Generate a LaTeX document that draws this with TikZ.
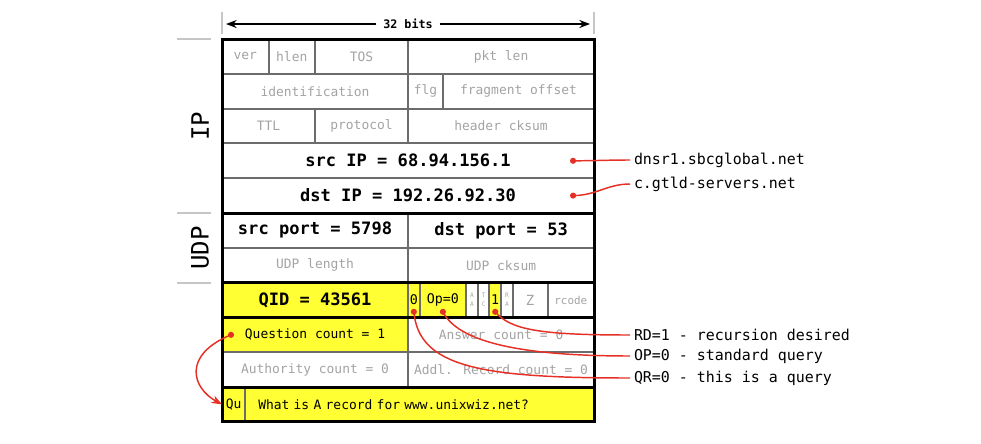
\documentclass[tikz,border=0pt]{standalone}
\usepackage{fontspec}
\setmainfont{DejaVu Sans Mono}
\usepackage{tikz}
\usetikzlibrary{positioning, arrows.meta}

\definecolor{hiyellow}{RGB}{255,255,51}
\definecolor{wirered}{RGB}{229,48,38}
\newcommand{\dimfont}{\fontsize{9.7}{11}\selectfont}
\newcommand{\boldfont}{\fontsize{12.8}{14}\selectfont\bfseries}

\tikzset{
  bitbox/.style={draw=gray!85!black, line width=1.5pt, inner sep=0pt, outer sep=0pt,
    minimum height=26.1pt, minimum width=#1*8.72pt, text=gray!72, font=\dimfont},
  hot/.style={fill=hiyellow, text=black},
  strong/.style={text=black, font=\boldfont},
  flag/.style={hot, font=\fontsize{10}{11}\selectfont},
  tiny/.style={align=center, font=\fontsize{4.6}{7}\selectfont},
  frame/.style={line width=2.25pt, line cap=rect},
  sect/.style={draw=gray!45, line width=1.5pt},
  tag/.style={rotate=90, font=\fontsize{18}{20}\selectfont},
  note/.style={anchor=west, inner sep=0pt, outer sep=3pt, font=\fontsize{11.2}{13}\selectfont},
  wire/.style={draw=wirered, line width=1.1pt},
}

\begin{document}
\begin{tikzpicture}[x=0.75pt, y=-0.75pt]
  \useasboundingbox (0,0) rectangle (981,443);

  % IP header
  \node[bitbox=4, anchor=north west] (ver) at (222,39) {ver};
  \node[bitbox=4, right=0pt of ver] (hlen) {hlen};
  \node[bitbox=8, right=0pt of hlen] (tos) {TOS};
  \node[bitbox=16, right=0pt of tos] (pktlen) {pkt len};
  \node[bitbox=16, anchor=north west] (ident) at (ver.south west) {identification};
  \node[bitbox=3, right=0pt of ident] (flg) {flg};
  \node[bitbox=13, right=0pt of flg] (fragoff) {fragment offset};
  \node[bitbox=8, anchor=north west] (ttl) at (ident.south west) {TTL};
  \node[bitbox=8, right=0pt of ttl] (proto) {protocol};
  \node[bitbox=16, right=0pt of proto] (hcksum) {header cksum};
  \node[bitbox=32, strong, anchor=north west] (srcip) at (ttl.south west) {src IP = 68.94.156.1};
  \node[bitbox=32, strong, anchor=north west] (dstip) at (srcip.south west) {dst IP = 192.26.92.30};

  % UDP header
  \node[bitbox=16, strong, anchor=north west] (srcport) at (dstip.south west) {src port = 5798};
  \node[bitbox=16, strong, right=0pt of srcport] (dstport) {dst port = 53};
  \node[bitbox=16, anchor=north west] (udplen) at (srcport.south west) {UDP length};
  \node[bitbox=16, right=0pt of udplen] (udpck) {UDP cksum};

  % DNS header
  \node[bitbox=16, hot, strong, anchor=north west] (qid) at (udplen.south west) {QID = 43561};
  \node[bitbox=1, flag, right=0pt of qid] (qr) {0};
  \node[bitbox=4, flag, right=0pt of qr] (opcode) {Op=0};
  \node[bitbox=1, tiny, right=0pt of opcode] (aa) {A\\A};
  \node[bitbox=1, tiny, right=0pt of aa] (tc) {T\\C};
  \node[bitbox=1, flag, right=0pt of tc] (rd) {1};
  \node[bitbox=1, tiny, right=0pt of rd] (ra) {R\\A};
  \node[bitbox=3, font=\fontsize{10.5}{12}\selectfont, right=0pt of ra] (z) {Z};
  \node[bitbox=4, font=\fontsize{8.2}{10}\selectfont, right=0pt of z] (rcode) {rcode};
  \node[bitbox=16, hot, anchor=north west] (qcount) at (qid.south west) {Question count = 1};
  \node[bitbox=16, right=0pt of qcount] (acount) {Answer count = 0};
  \node[bitbox=16, anchor=north west] (nscount) at (qcount.south west) {Authority count = 0};
  \node[bitbox=16, right=0pt of nscount] (arcount) {Addl. Record count = 0};
  \node[bitbox=2, hot, anchor=north west] (qu) at (nscount.south west) {Qu};
  \node[bitbox=30, hot, inner xsep=9.75pt, text width=242.1pt, align=left, right=0pt of qu] (question) {What is A record for www.unixwiz.net?};

  % heavy lines
  \draw[frame] (ver.north west) rectangle (question.south east);
  \draw[frame] (srcport.north west) -- (dstport.north east);
  \draw[frame] (qid.north west) -- (rcode.north east);
  \draw[frame] (qcount.north west) -- (acount.north east);
  \draw[frame] (qu.north west) -- (question.north east);

  % width marker
  \node[font=\fontsize{8.8}{10}\selectfont\bfseries, fill=white, inner xsep=5pt] (bits) at (408,24) {32 bits};
  \coordinate (bitsl) at (226,24);
  \coordinate (bitsr) at (590,24);
  \draw[sect] (222,12) -- (222,34);
  \draw[sect] (594,12) -- (594,34);
  \draw[-{Stealth[length=8pt,width=6pt]}, line width=1.2pt] (bits.west) -- (bitsl);
  \draw[-{Stealth[length=8pt,width=6pt]}, line width=1.2pt] (bits.east) -- (bitsr);

  % layers
  \node[tag] (iplab) at (200,126) {IP};
  \node[tag] (udplab) at (200,248) {UDP};
  \draw[sect] (177,39) -- (211,39);
  \draw[sect] (177,213) -- (211,213);
  \draw[sect] (177,283) -- (211,283);

  % notes
  \node[note] (dnsr) at (630,160) {dnsr1.sbcglobal.net};
  \node[note] (gtld) at (630,184) {c.gtld-servers.net};
  \node[note] (rdnote) at (630,335) {RD=1 - recursion desired};
  \node[note] (opnote) at (630,356) {OP=0 - standard query};
  \node[note] (qrnote) at (630,378) {QR=0 - this is a query};

  \coordinate (srcdot) at ([xshift=-15.75pt]srcip.east);
  \coordinate (dstdot) at ([xshift=-15.75pt]dstip.east);
  \coordinate (qrdot) at ([yshift=4.2pt]qr.south);
  \coordinate (opdot) at ([yshift=4.2pt]opcode.south);
  \coordinate (rddot) at ([yshift=4.2pt]rd.south);
  \coordinate (qdot) at ([xshift=6.75pt]qcount.west);

  \draw[wire] (srcdot) to[out=0, in=180] (dnsr.west);
  \draw[wire] (dstdot) to[out=0, in=180] (gtld.west);
  \draw[wire] (rddot) .. controls +(15,18) and +(-90,0) .. (rdnote.west);
  \draw[wire] (opdot) .. controls +(15,30) and +(-110,0) .. (opnote.west);
  \draw[wire] (qrdot) .. controls +(5,55) and +(-150,0) .. (qrnote.west);
  \draw[wire, -{Stealth[length=8pt,width=6pt]}] (qdot) .. controls (182,355) and (192,388) .. (qu.west);
  \foreach \d in {srcdot, dstdot, qrdot, opdot, rddot, qdot}
    \fill[wirered] (\d) circle (2.3pt);
\end{tikzpicture}
\end{document}
